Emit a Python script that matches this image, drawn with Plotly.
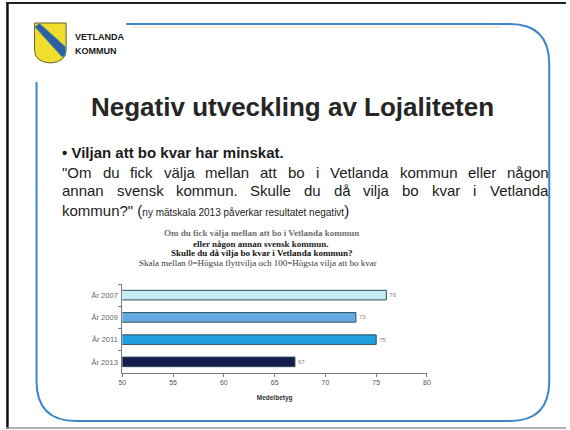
import plotly.graph_objects as go

# ---------------- data ----------------
years = ["År 2007", "År 2009", "År 2011", "År 2013"]
values = [76, 73, 75, 67]
value_labels = ["76", "73", "75", "67"]
bar_colors = ["#c2ecf3", "#62aae0", "#1f9fe0", "#151b4d"]
x_ticks = [50, 55, 60, 65, 70, 75, 80]
x_tick_labels = ["50", "55", "60", "65", "70", "75", "80"]

W, H = 570, 430


def X(px):
    return px / W


def Y(py):
    return 1 - py / H


# Arial / Liberation Sans advance widths (per 1000 em)
AW = {' ': 278, '"': 355, '.': 278, '?': 556, 'O': 778, 'V': 667, 'S': 667,
      'a': 556, 'b': 556, 'c': 500, 'd': 556, 'e': 556, 'f': 278, 'g': 556,
      'h': 556, 'i': 222, 'j': 222, 'k': 500, 'l': 222, 'm': 833, 'n': 556,
      'o': 556, 'p': 556, 'r': 333, 's': 500, 't': 278, 'u': 556, 'v': 500,
      'å': 556, 'ä': 556, 'ö': 556}


def text_w(s, size):
    return sum(AW.get(c, 556) for c in s) * size / 1000.0


annotations = []


def justified(line, left, right, ypx, size, color="#1b1b1b"):
    words = line.split(" ")
    widths = [text_w(w, size) for w in words]
    gap = (right - left - sum(widths)) / (len(words) - 1)
    x = left
    for w, wd in zip(words, widths):
        annotations.append(dict(text=w, x=X(x), y=Y(ypx), xref="paper", yref="paper",
                                xanchor="left", yanchor="middle", showarrow=False,
                                font=dict(family="Liberation Sans, Arial", size=size, color=color)))
        x += wd + gap


def label(text, xpx, ypx, size, color="#1b1b1b", family="Liberation Sans, Arial",
          xanchor="left", bold=False):
    t = f"<b>{text}</b>" if bold else text
    annotations.append(dict(text=t, x=X(xpx), y=Y(ypx), xref="paper", yref="paper",
                            xanchor=xanchor, yanchor="middle", showarrow=False,
                            font=dict(family=family, size=size, color=color)))


# ---------------- figure ----------------
fig = go.Figure()
fig.add_trace(go.Bar(
    y=years, x=values, orientation="h",
    marker=dict(color=bar_colors, line=dict(color="#31505e", width=1)),
    width=0.43,
    text=value_labels, textposition="outside", cliponaxis=False,
    textfont=dict(family="Liberation Sans, Arial", size=6, color="#888888"),
    hoverinfo="skip",
))

# slide texts
label("Negativ utveckling av Lojaliteten", 293, 107, 26, color="#262626",
      xanchor="center", bold=True)
label("• Viljan att bo kvar har minskat.", 57, 152, 15, bold=True, color="#1b1b1b")
justified('"Om du fick välja mellan att bo i Vetlanda kommun eller någon', 57, 550, 172, 15)
justified('annan svensk kommun. Skulle du då vilja bo kvar i Vetlanda', 57, 550, 191, 15)
annotations.append(dict(
    text='kommun?" (<span style="font-size:10px">ny mätskala 2013 påverkar resultatet negativt</span>)',
    x=X(57), y=Y(210), xref="paper", yref="paper", xanchor="left", yanchor="middle",
    showarrow=False, font=dict(family="Liberation Sans, Arial", size=15, color="#1b1b1b")))

# chart title
serif = "Liberation Serif, Times New Roman"
label("Om du fick välja mellan att bo i Vetlanda kommun", 261, 233, 9, color="#6e6e6e",
      family=serif, xanchor="center", bold=True)
label("eller någon annan svensk kommun.", 261, 243.5, 9, color="#222222",
      family=serif, xanchor="center", bold=True)
label("Skulle du då vilja bo kvar i Vetlanda kommun?", 261, 253, 9, color="#111111",
      family=serif, xanchor="center", bold=True)
label("Skala mellan 0=Högsta flyttvilja och 100=Högsta vilja att bo kvar", 258, 262.5, 9,
      color="#3a3a3a", family=serif, xanchor="center")

# logo text
label("VETLANDA", 70, 37, 9, color="#1a1a1a", bold=True)
label("KOMMUN", 70, 51, 9, color="#1a1a1a", bold=True)


def P(px, py):
    return f"{X(px):.5f},{Y(py):.5f}"


shapes = []
# outer black frame
shapes.append(dict(type="line", xref="paper", yref="paper", x0=X(3.5), x1=X(3.5), y0=Y(2), y1=Y(429),
                   line=dict(color="#111111", width=2.5)))
shapes.append(dict(type="line", xref="paper", yref="paper", x0=X(2), x1=X(570), y0=Y(3), y1=Y(3),
                   line=dict(color="#222222", width=2)))
shapes.append(dict(type="line", xref="paper", yref="paper", x0=X(2), x1=X(570), y0=Y(428), y1=Y(428),
                   line=dict(color="#9a9a9a", width=1.5)))

# blue rounded frame (open at the top left)
r = 40
path = ("M " + P(124, 24) + " L " + P(553 - r, 24) +
        " Q " + P(553, 24) + " " + P(553, 24 + r) +
        " L " + P(553, 421 - r) +
        " Q " + P(553, 421) + " " + P(553 - r, 421) +
        " L " + P(33 + r, 421) +
        " Q " + P(33, 421) + " " + P(33, 421 - r) +
        " L " + P(33, 82))
shapes.append(dict(type="path", xref="paper", yref="paper", path=path,
                   line=dict(color="#3f86c8", width=2)))
# faint beige line under top
shapes.append(dict(type="line", xref="paper", yref="paper", x0=X(130), x1=X(505), y0=Y(27), y1=Y(27),
                   line=dict(color="#f3e6cc", width=1.5)))

# logo shield
shield = ("M " + P(31, 23) + " L " + P(63, 23) + " L " + P(63, 50) +
          " Q " + P(63, 62) + " " + P(47, 63) + " Q " + P(31, 62) + " " + P(31, 50) + " Z")
shapes.append(dict(type="path", xref="paper", yref="paper", path=shield,
                   fillcolor="#f1de2c", line=dict(color="#6b6330", width=1)))
band = ("M " + P(31.5, 27) + " L " + P(36, 23.5) + " L " + P(62.5, 47) +
        " L " + P(62.5, 55) + " L " + P(59, 57) + " Z")
shapes.append(dict(type="path", xref="paper", yref="paper", path=band,
                   fillcolor="#2f5ea6", line=dict(color="#4a9a8a", width=1)))

fig.update_layout(
    width=W, height=H, autosize=False,
    margin=dict(l=0, r=0, t=0, b=0),
    paper_bgcolor="#ffffff", plot_bgcolor="rgba(0,0,0,0)",
    showlegend=False,
    annotations=annotations,
    shapes=shapes,
    xaxis=dict(domain=[X(120), X(429)], range=[50, 80], tickvals=x_ticks, ticktext=x_tick_labels,
               showgrid=False, zeroline=False, showline=True, linecolor="#7a7a7a", linewidth=1,
               ticks="outside", ticklen=3, tickcolor="#7a7a7a",
               tickfont=dict(family="Liberation Sans, Arial", size=7, color="#555555"),
               title=dict(text="<b>Medelbetyg</b>", standoff=10,
                          font=dict(family="Liberation Sans, Arial", size=6.5, color="#333333"))),
    yaxis=dict(domain=[Y(373), Y(284)], autorange="reversed", type="category",
               showgrid=False, zeroline=False, showline=True, linecolor="#7a7a7a", linewidth=1,
               ticks="outside", ticklen=3, tickcolor="#7a7a7a", tickson="boundaries",
               tickfont=dict(family="Liberation Sans, Arial", size=7.5, color="#666666"),
               ticklabelstandoff=2),
)

fig.write_html("out.html",
               config={"displayModeBar": False},
               post_script="document.body.style.margin='0';document.body.style.padding='0';"
                           "document.body.style.overflow='hidden';")
